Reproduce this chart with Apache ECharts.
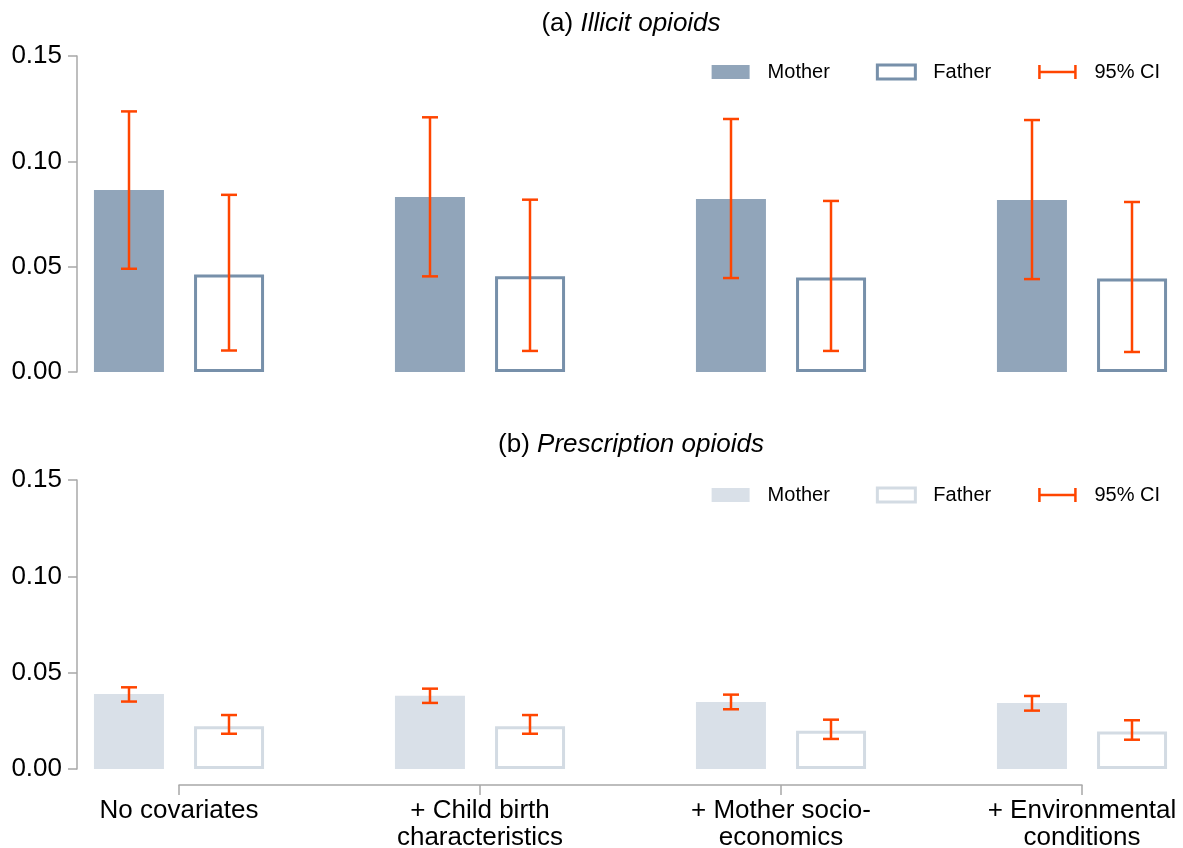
<!DOCTYPE html>
<html>
<head>
<meta charset="utf-8">
<script src="https://cdn.jsdelivr.net/npm/echarts@6/dist/echarts.min.js"></script>
<style>
html,body{margin:0;padding:0;background:#fff;}
#chart{width:1183px;height:848px;}
</style>
</head>
<body>
<div id="chart"></div>
<script>
// ---- data ----
const categories = ['No covariates', '+ Child birth\ncharacteristics', '+ Mother socio-\neconomics', '+ Environmental\nconditions'];
const yTicks = [0, 0.05, 0.10, 0.15];

const illicitMother   = [0.0864, 0.0831, 0.0821, 0.0816];
const illicitMotherLo = [0.0490, 0.0454, 0.0446, 0.0441];
const illicitMotherHi = [0.1237, 0.1209, 0.1201, 0.1196];
const illicitFather   = [0.0463, 0.0455, 0.0449, 0.0444];
const illicitFatherLo = [0.0102, 0.0100, 0.0100, 0.0095];
const illicitFatherHi = [0.0841, 0.0818, 0.0812, 0.0807];

const rxMother   = [0.0389, 0.0380, 0.0348, 0.0343];
const rxMotherLo = [0.0350, 0.0343, 0.0310, 0.0303];
const rxMotherHi = [0.0424, 0.0417, 0.0386, 0.0379];
const rxFather   = [0.0222, 0.0222, 0.0198, 0.0195];
const rxFatherLo = [0.0183, 0.0183, 0.0156, 0.0152];
const rxFatherHi = [0.0280, 0.0280, 0.0256, 0.0253];

// ---- styles ----
const CI = '#FF4500';
const AXIS = '#a8a8a8';
const FONT = '"Liberation Sans", Arial, sans-serif';
const topMotherColor = '#91A5BA', topFatherBorder = '#7790AA';
const botMotherColor = '#D9E0E8', botFatherBorder = '#D3DBE3';

function errData(lo, hi){ return lo.map((v,i)=>[i, v, hi[i]]); }
function errRender(offset){
  return function(params, api){
    const x = api.value(0);
    const lo = api.coord([x, api.value(1)]);
    const hi = api.coord([x, api.value(2)]);
    const cx = lo[0] + offset, hw = 8;
    const st = {stroke: CI, lineWidth: 2.5};
    return {type:'group', children:[
      {type:'line', shape:{x1:cx, y1:hi[1], x2:cx, y2:lo[1]}, style:st},
      {type:'line', shape:{x1:cx-hw, y1:hi[1], x2:cx+hw, y2:hi[1]}, style:st},
      {type:'line', shape:{x1:cx-hw, y1:lo[1], x2:cx+hw, y2:lo[1]}, style:st}
    ]};
  };
}

const ciIcon = 'path://M0,7L38,7M1,0L1,14M37,0L37,14';
function legendFor(top, mColor, fBorder){
  return {
    top: top, right: 18, itemWidth: 38, itemHeight: 14, itemGap: 46,
    selectedMode: false,
    textStyle: {fontSize: 20, color: '#000', fontFamily: FONT, padding: [0,0,0,13]},
    data: [
      {name: 'Mother', icon: 'rect', itemStyle: {color: mColor, borderWidth: 0}},
      {name: 'Father', icon: 'rect', itemStyle: {color: '#fff', borderColor: fBorder, borderWidth: 3}},
      {name: '95% CI', icon: ciIcon, itemStyle: {color: 'rgba(0,0,0,0)', borderColor: CI, borderWidth: 2.5}}
    ]
  };
}

function yAxisFor(gi){
  return {
    type: 'value', gridIndex: gi, min: 0, max: 0.15, interval: 0.05, offset: 102,
    axisLine: {show: true, lineStyle: {color: AXIS, width: 1.5}},
    axisTick: {show: true, length: 9, lineStyle: {color: AXIS, width: 1.5}},
    axisLabel: {fontSize: 26, color: '#000', fontFamily: FONT, margin: 15,
      formatter: v => yTicks.find(t => Math.abs(t - v) < 1e-9) !== undefined ? v.toFixed(2) : ''},
    splitLine: {show: false}
  };
}

const titleStyle = {fontSize: 26, fontWeight: 'normal', color: '#000', fontFamily: FONT,
  rich: {i: {fontSize: 26, fontStyle: 'italic', color: '#000', fontFamily: FONT}}};

const chart = echarts.init(document.getElementById('chart'), null, {renderer: 'canvas'});
chart.setOption({
  animation: false,
  backgroundColor: '#fff',
  textStyle: {fontFamily: FONT},
  title: [
    {text: '(a) {i|Illicit opioids}', left: 626, top: 6, textAlign: 'center', textStyle: titleStyle},
    {text: '(b) {i|Prescription opioids}', left: 626, top: 427, textAlign: 'center', textStyle: titleStyle}
  ],
  legend: [legendFor(57, topMotherColor, topFatherBorder), legendFor(480, botMotherColor, botFatherBorder)],
  grid: [
    {left: 179, right: 101, top: 56, height: 316, containLabel: false, outerBoundsMode: 'none'},
    {left: 179, right: 101, top: 480, height: 289, containLabel: false, outerBoundsMode: 'none'}
  ],
  xAxis: [
    {type: 'category', gridIndex: 0, data: categories, boundaryGap: false,
     axisLine: {show: false, onZero: false}, axisTick: {show: false}, axisLabel: {show: false}},
    {type: 'category', gridIndex: 1, data: categories, boundaryGap: false, offset: 16,
     axisLine: {show: true, onZero: false, lineStyle: {color: AXIS, width: 1.5}},
     axisTick: {show: true, length: 10, lineStyle: {color: AXIS, width: 1.5}},
     axisLabel: {fontSize: 26, color: '#000', fontFamily: FONT, margin: 12, lineHeight: 27, interval: 0}}
  ],
  yAxis: [yAxisFor(0), yAxisFor(1)],
  series: [
    {name: 'Mother', type: 'bar', xAxisIndex: 0, yAxisIndex: 0, data: illicitMother,
     barWidth: 70, barGap: '43%', clip: false, itemStyle: {color: topMotherColor}},
    {name: 'Father', type: 'bar', xAxisIndex: 0, yAxisIndex: 0, data: illicitFather,
     barWidth: 70, barGap: '43%', clip: false,
     itemStyle: {color: '#fff', borderColor: topFatherBorder, borderWidth: 3}},
    {name: '95% CI', type: 'custom', xAxisIndex: 0, yAxisIndex: 0, z: 5, clip: false,
     data: errData(illicitMotherLo, illicitMotherHi), renderItem: errRender(-50), itemStyle: {color: CI}},
    {name: '95% CI', type: 'custom', xAxisIndex: 0, yAxisIndex: 0, z: 5, clip: false,
     data: errData(illicitFatherLo, illicitFatherHi), renderItem: errRender(50), itemStyle: {color: CI}},

    {name: 'Mother', type: 'bar', xAxisIndex: 1, yAxisIndex: 1, data: rxMother,
     barWidth: 70, barGap: '43%', clip: false, itemStyle: {color: botMotherColor}},
    {name: 'Father', type: 'bar', xAxisIndex: 1, yAxisIndex: 1, data: rxFather,
     barWidth: 70, barGap: '43%', clip: false,
     itemStyle: {color: '#fff', borderColor: botFatherBorder, borderWidth: 3}},
    {name: '95% CI', type: 'custom', xAxisIndex: 1, yAxisIndex: 1, z: 5, clip: false,
     data: errData(rxMotherLo, rxMotherHi), renderItem: errRender(-50), itemStyle: {color: CI}},
    {name: '95% CI', type: 'custom', xAxisIndex: 1, yAxisIndex: 1, z: 5, clip: false,
     data: errData(rxFatherLo, rxFatherHi), renderItem: errRender(50), itemStyle: {color: CI}}
  ]
});
</script>
</body>
</html>
